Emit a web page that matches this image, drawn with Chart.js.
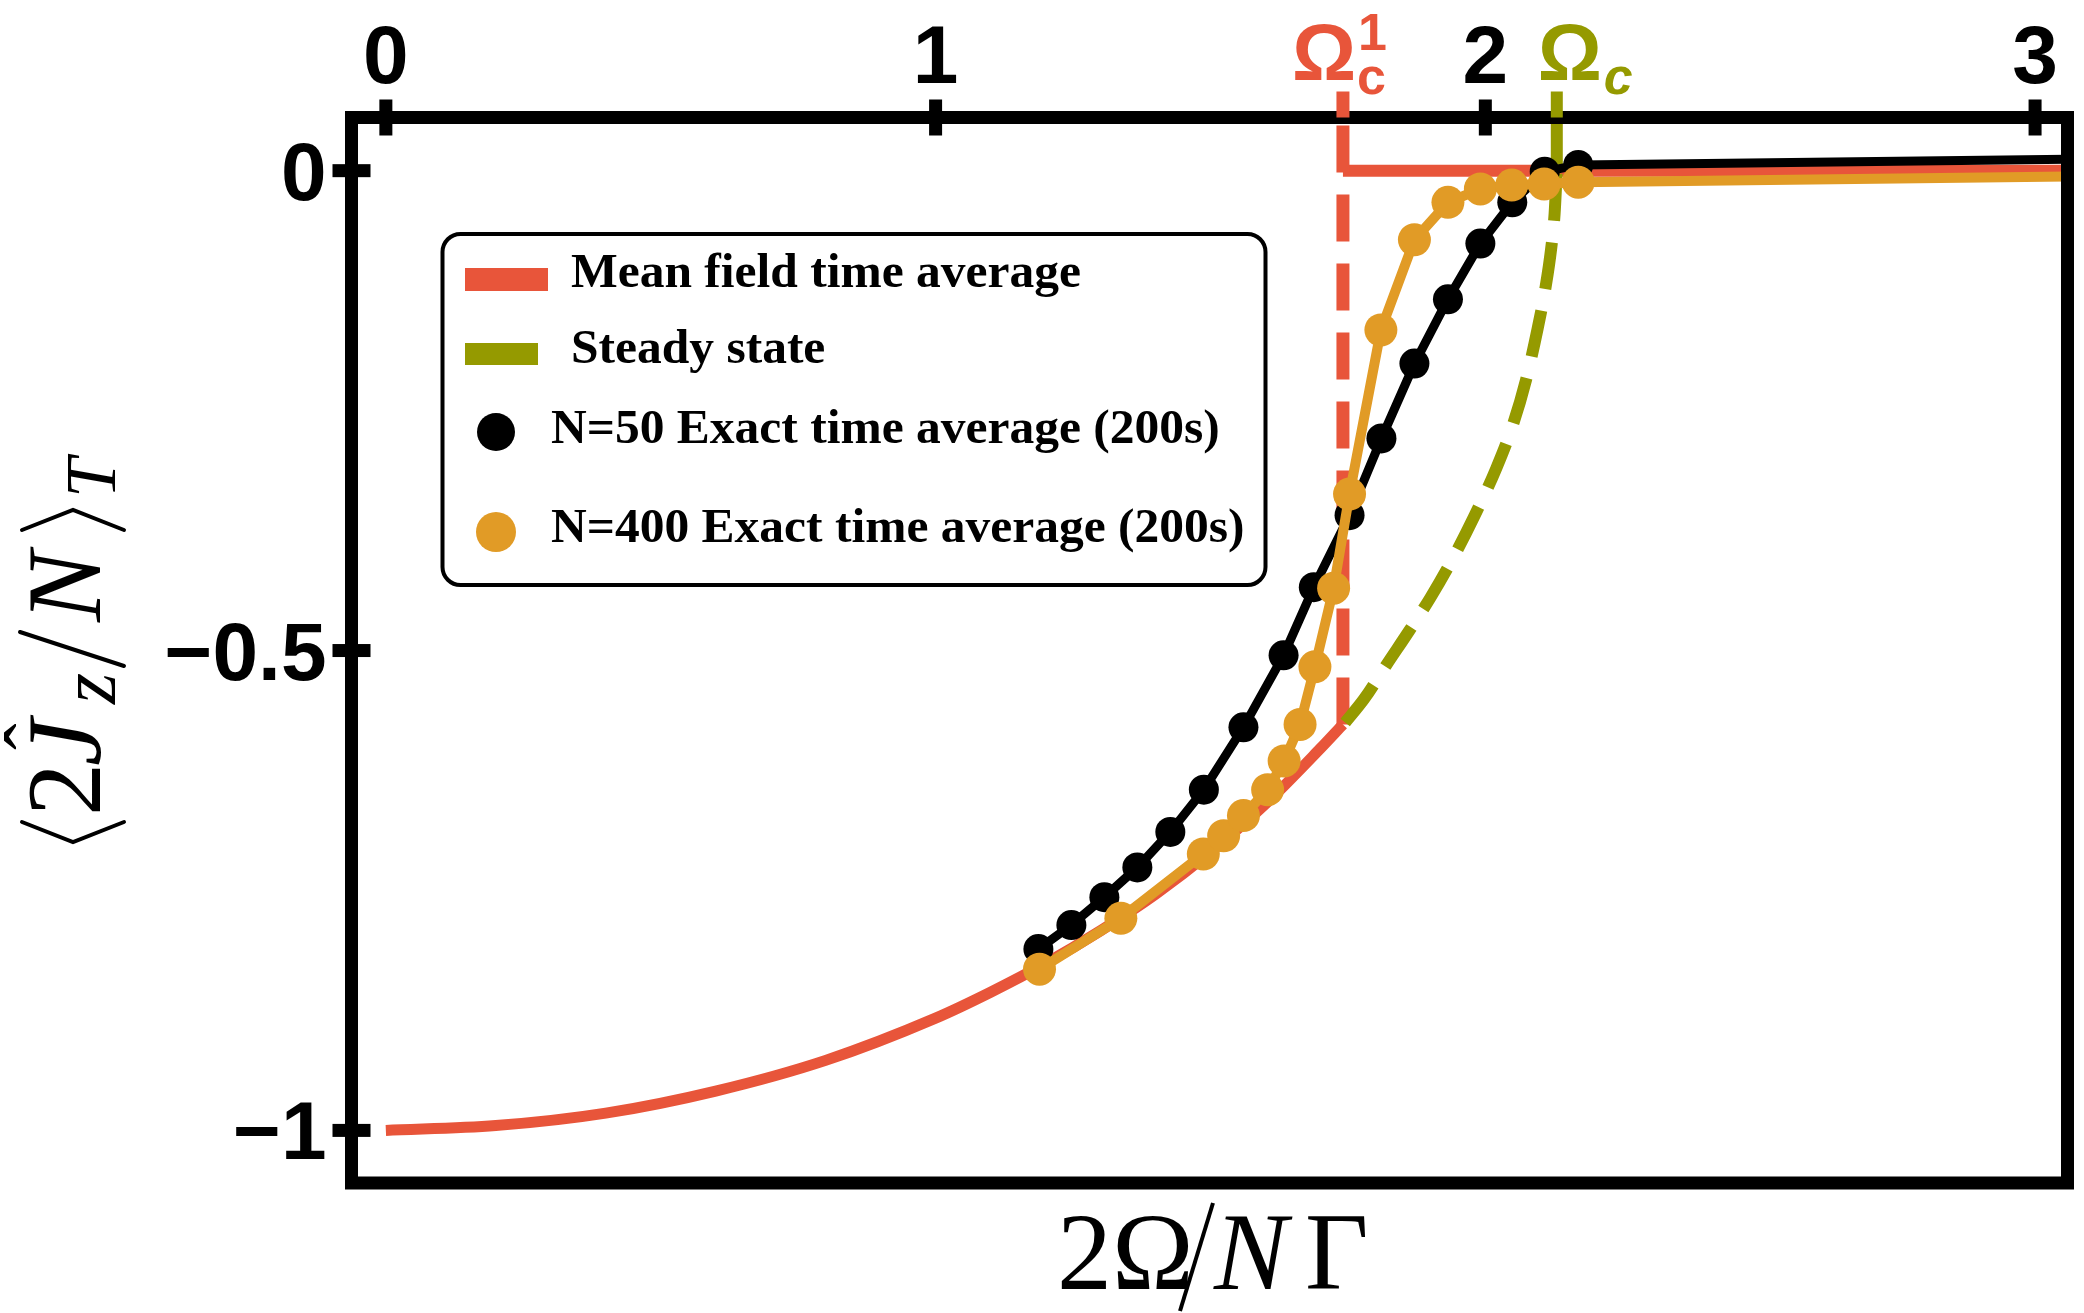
<!DOCTYPE html>
<html>
<head>
<meta charset="utf-8">
<script src="https://cdn.jsdelivr.net/npm/chart.js@4.4.1/dist/chart.umd.min.js"></script>
<style>
  html, body { margin: 0; padding: 0; background: #fff; }
  #wrap { width: 2084px; height: 1313px; }
</style>
</head>
<body>
<div id="wrap"><canvas id="chart" width="2084" height="1313"></canvas></div>
<script>
// ---- axes ----
const xTicks = [0, 1, 2, 3];
const xTickLabels = ['0', '1', '2', '3'];
const yTicks = [0, -0.5, -1];
const yTickLabels = ['0', '\u22120.5', '\u22121'];
const xRange = [-0.0625, 3.059];
const yRange = [-1.0548, 0.0554];

// critical drive strengths marked on the top axis
const omegaC1 = 1.741;
const omegaC = 2.13;

// mean field time average (red)
const meanFieldX = [0, 0.2, 0.4, 0.6, 0.8, 1.0, 1.1, 1.2, 1.3, 1.4, 1.5, 1.6, 1.7, 1.741];
const meanFieldY = [-1, -0.995, -0.982, -0.959, -0.927, -0.883, -0.856, -0.826, -0.792, -0.754, -0.71, -0.66, -0.602, -0.577];
const meanFieldJumpX = [1.741, 1.741];
const meanFieldJumpY = [-0.577, 0.0554];
const meanFieldTopX = [1.741, 3.059];
const meanFieldTopY = [0, 0];

// steady state (olive, dashed)
const steadyX = [1.745, 1.78, 1.82, 1.862, 1.90, 1.94, 1.98, 2.02, 2.05, 2.074, 2.095, 2.11, 2.12, 2.126, 2.13];
const steadyY = [-0.575, -0.55, -0.515, -0.479, -0.445, -0.405, -0.36, -0.31, -0.265, -0.218, -0.165, -0.12, -0.08, -0.045, 0];
const steadyEdgeX = [2.13, 2.13];
const steadyEdgeY = [0, 0.0554];

// N=50 exact time average (black)
const n50X = [1.187, 1.247, 1.307, 1.367, 1.427, 1.488, 1.560, 1.633, 1.688, 1.753, 1.811, 1.871, 1.932, 1.991, 2.049, 2.108, 2.169];
const n50Y = [-0.811, -0.786, -0.757, -0.726, -0.689, -0.645, -0.580, -0.505, -0.434, -0.359, -0.279, -0.201, -0.134, -0.076, -0.033, -0.001, 0.006];
const n50TailX = [2.169, 3.059];
const n50TailY = [0.006, 0.012];

// N=400 exact time average (orange)
const n400X = [1.189, 1.337, 1.487, 1.524, 1.560, 1.604, 1.634, 1.663, 1.690, 1.724, 1.753, 1.810, 1.871, 1.932, 1.991, 2.048, 2.107, 2.169];
const n400Y = [-0.832, -0.779, -0.712, -0.693, -0.672, -0.645, -0.615, -0.577, -0.517, -0.435, -0.337, -0.166, -0.072, -0.033, -0.019, -0.015, -0.014, -0.012];
const n400TailX = [2.169, 3.059];
const n400TailY = [-0.012, -0.006];

const legendLabels = [
  'Mean field time average',
  'Steady state',
  'N=50 Exact time average (200s)',
  'N=400 Exact time average (200s)'
];

const RED = '#E8553A';
const OLIVE = '#959A00';
const ORANGE = '#E19B26';
const BLACK = '#000000';

const pts = (xs, ys) => xs.map((v, i) => ({ x: v, y: ys[i] }));

function lineSet(xs, ys, color, width, extra) {
  return Object.assign({
    data: pts(xs, ys),
    borderColor: color,
    backgroundColor: color,
    borderWidth: width,
    pointRadius: 0,
    fill: false,
    tension: 0
  }, extra || {});
}

// frame, ticks, labels, titles and legend
const decorations = {
  id: 'decorations',
  afterDatasetsDraw(chart) {
    const { ctx, chartArea: a, scales: { x, y } } = chart;
    ctx.save();

    // frame
    ctx.strokeStyle = BLACK;
    ctx.lineWidth = 13;
    ctx.lineJoin = 'miter';
    ctx.strokeRect(a.left, a.top, a.right - a.left, a.bottom - a.top);

    // ticks across the top and left edges
    ctx.fillStyle = BLACK;
    xTicks.forEach(v => {
      const px = x.getPixelForValue(v);
      ctx.fillRect(px - 6.5, a.top - 18, 13, 36);
    });
    yTicks.forEach(v => {
      const py = y.getPixelForValue(v);
      ctx.fillRect(a.left - 19, py - 6.5, 38, 13);
    });
    // critical point ticks
    ctx.fillStyle = RED;
    ctx.fillRect(x.getPixelForValue(omegaC1) - 6.5, a.top - 26, 13, 26);
    ctx.fillStyle = OLIVE;
    ctx.fillRect(x.getPixelForValue(omegaC) - 6, a.top - 26, 12, 26);

    // tick labels
    ctx.fillStyle = BLACK;
    ctx.font = 'bold 82px "Liberation Sans", Arial, sans-serif';
    ctx.textBaseline = 'alphabetic';
    ctx.textAlign = 'center';
    xTicks.forEach((v, i) => {
      ctx.fillText(xTickLabels[i], x.getPixelForValue(v), a.top - 35);
    });
    ctx.textAlign = 'right';
    yTicks.forEach((v, i) => {
      ctx.fillText(yTickLabels[i], a.left - 25, y.getPixelForValue(v) + 29);
    });

    // Omega_c^1 and Omega_c labels
    ctx.textAlign = 'left';
    const r1 = x.getPixelForValue(omegaC1);
    ctx.fillStyle = RED;
    ctx.font = 'bold 80px "Liberation Sans", Arial, sans-serif';
    ctx.fillText('\u03A9', r1 - 51, 80);
    ctx.font = 'bold 52px "Liberation Sans", Arial, sans-serif';
    ctx.fillText('c', r1 + 14, 94);
    ctx.font = 'bold 52px "Liberation Sans", Arial, sans-serif';
    ctx.fillText('1', r1 + 15, 50);
    const r2 = x.getPixelForValue(omegaC);
    ctx.fillStyle = OLIVE;
    ctx.font = 'bold 80px "Liberation Sans", Arial, sans-serif';
    ctx.fillText('\u03A9', r2 - 19, 80);
    ctx.font = 'bold italic 52px "Liberation Sans", Arial, sans-serif';
    ctx.fillText('c', r2 + 47, 94);

    // x axis title: 2Omega / N Gamma
    ctx.fillStyle = BLACK;
    ctx.strokeStyle = BLACK;
    const bx = a.bottom + 106;
    ctx.font = '110px "Liberation Serif", "Times New Roman", serif';
    ctx.fillText('2\u03A9', 1057, bx);
    ctx.lineWidth = 4;
    ctx.beginPath();
    ctx.moveTo(1180, bx + 22);
    ctx.lineTo(1213, bx - 86);
    ctx.stroke();
    ctx.font = 'italic 110px "Liberation Serif", "Times New Roman", serif';
    ctx.fillText('N', 1214, bx);
    ctx.font = '110px "Liberation Serif", "Times New Roman", serif';
    ctx.fillText('\u0393', 1305, bx);

    // y axis title: <2 J_z / N>_T, rotated
    ctx.save();
    ctx.translate(100, 844);
    ctx.rotate(-Math.PI / 2);
    ctx.lineWidth = 4;
    ctx.lineCap = 'round';
    const chevron = (x0, open) => {
      ctx.beginPath();
      if (open) {
        ctx.moveTo(x0 + 22, -78); ctx.lineTo(x0 + 2, -27); ctx.lineTo(x0 + 22, 24);
      } else {
        ctx.moveTo(x0, -78); ctx.lineTo(x0 + 20, -27); ctx.lineTo(x0, 24);
      }
      ctx.stroke();
    };
    chevron(0, true);
    ctx.font = '106px "Liberation Serif", "Times New Roman", serif';
    ctx.fillText('2', 28, 0);
    ctx.font = 'italic 106px "Liberation Serif", "Times New Roman", serif';
    ctx.fillText('J', 78, 0);
    ctx.font = '80px "Liberation Serif", "Times New Roman", serif';
    ctx.fillText('\u02C6', 94, -40);
    ctx.font = 'italic 80px "Liberation Serif", "Times New Roman", serif';
    ctx.fillText('z', 140, 15);
    ctx.beginPath();
    ctx.moveTo(178, 24);
    ctx.lineTo(212, -80);
    ctx.stroke();
    ctx.font = 'italic 106px "Liberation Serif", "Times New Roman", serif';
    ctx.fillText('N', 222, 0);
    chevron(314, false);
    ctx.font = 'italic 72px "Liberation Serif", "Times New Roman", serif';
    ctx.fillText('T', 346, 15);
    ctx.restore();

    // legend
    const lx = 442.5, ly = 234, lw = 823, lh = 351;
    ctx.fillStyle = '#ffffff';
    ctx.strokeStyle = BLACK;
    ctx.lineWidth = 4;
    ctx.beginPath();
    ctx.roundRect(lx, ly, lw, lh, 18);
    ctx.fill();
    ctx.stroke();

    ctx.fillStyle = RED;
    ctx.fillRect(lx + 22.5, ly + 34, 83, 23);
    ctx.fillStyle = OLIVE;
    ctx.fillRect(lx + 22.5, ly + 109, 73, 22);
    ctx.fillStyle = BLACK;
    ctx.beginPath();
    ctx.arc(lx + 53.5, ly + 198, 19, 0, Math.PI * 2);
    ctx.fill();
    ctx.fillStyle = ORANGE;
    ctx.beginPath();
    ctx.arc(lx + 53.5, ly + 298, 20, 0, Math.PI * 2);
    ctx.fill();

    ctx.fillStyle = BLACK;
    ctx.font = 'bold 49.5px "Liberation Serif", "Times New Roman", serif';
    ctx.fillText(legendLabels[0], lx + 128.5, ly + 53);
    ctx.fillText(legendLabels[1], lx + 128.5, ly + 129);
    ctx.fillText(legendLabels[2], lx + 108.5, ly + 209);
    ctx.fillText(legendLabels[3], lx + 108.5, ly + 308);

    ctx.restore();
  }
};

new Chart(document.getElementById('chart'), {
  type: 'line',
  data: {
    datasets: [
      lineSet(meanFieldX, meanFieldY, RED, 11, { cubicInterpolationMode: 'monotone', order: 6 }),
      lineSet(meanFieldJumpX, meanFieldJumpY, RED, 13, { borderDash: [47, 22], order: 6 }),
      lineSet(meanFieldTopX, meanFieldTopY, RED, 12, { order: 6 }),
      lineSet(steadyX, steadyY, OLIVE, 12, { borderDash: [47, 22], cubicInterpolationMode: 'monotone', order: 5 }),
      lineSet(steadyEdgeX, steadyEdgeY, OLIVE, 12, { borderDash: [47, 22], order: 5 }),
      lineSet(n50TailX, n50TailY, BLACK, 9, { order: 4 }),
      lineSet(n400TailX, n400TailY, ORANGE, 10, { order: 3 }),
      lineSet(n50X, n50Y, BLACK, 9, {
        pointRadius: 15, pointBackgroundColor: BLACK, pointBorderWidth: 0, order: 2
      }),
      lineSet(n400X, n400Y, ORANGE, 10, {
        pointRadius: 16.5, pointBackgroundColor: ORANGE, pointBorderWidth: 0, order: 1
      })
    ]
  },
  options: {
    responsive: false,
    animation: false,
    devicePixelRatio: 1,
    layout: { padding: { left: 351.5, top: 117.5, right: 10, bottom: 130 } },
    plugins: { legend: { display: false }, tooltip: { enabled: false } },
    scales: {
      x: { type: 'linear', min: xRange[0], max: xRange[1], display: false },
      y: { type: 'linear', min: yRange[0], max: yRange[1], display: false }
    }
  },
  plugins: [decorations]
});
</script>
</body>
</html>
